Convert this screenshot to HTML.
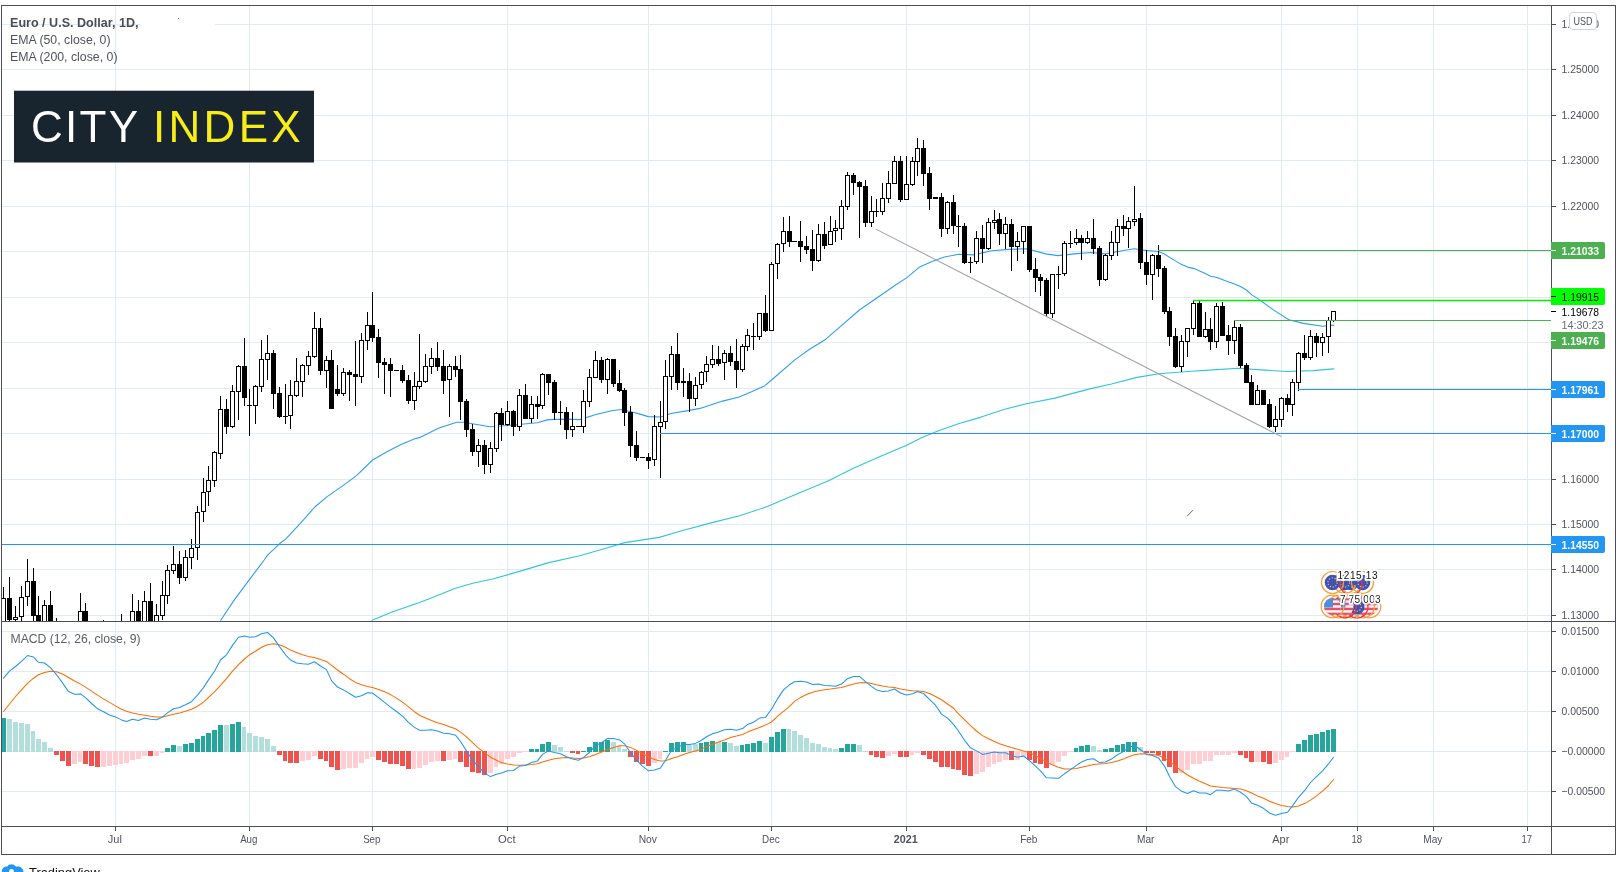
<!DOCTYPE html>
<html lang="en"><head><meta charset="utf-8"><title>EUR/USD chart</title>
<style>html,body{margin:0;padding:0;background:#fff}body{width:1622px;height:872px;overflow:hidden;position:relative}svg{position:absolute;left:0;top:0;display:block;will-change:transform}text{font-family:"Liberation Sans", Arial, sans-serif}</style></head><body>
<svg width="1622" height="872" viewBox="0 0 1622 872">
<rect x="0" y="0" width="1622" height="872" fill="#ffffff"/>
<g shape-rendering="crispEdges">
<rect x="115" y="6" width="1" height="820" fill="#e1ecf2"/>
<rect x="249" y="6" width="1" height="820" fill="#e1ecf2"/>
<rect x="372" y="6" width="1" height="820" fill="#e1ecf2"/>
<rect x="507" y="6" width="1" height="820" fill="#e1ecf2"/>
<rect x="648" y="6" width="1" height="820" fill="#e1ecf2"/>
<rect x="771" y="6" width="1" height="820" fill="#e1ecf2"/>
<rect x="906" y="6" width="1" height="820" fill="#e1ecf2"/>
<rect x="1029" y="6" width="1" height="820" fill="#e1ecf2"/>
<rect x="1146" y="6" width="1" height="820" fill="#e1ecf2"/>
<rect x="1281" y="6" width="1" height="820" fill="#e1ecf2"/>
<rect x="1357" y="6" width="1" height="820" fill="#e1ecf2"/>
<rect x="1433" y="6" width="1" height="820" fill="#e1ecf2"/>
<rect x="1527" y="6" width="1" height="820" fill="#e1ecf2"/>
<rect x="2" y="24" width="1549" height="1" fill="#e1ecf2"/>
<rect x="2" y="69" width="1549" height="1" fill="#e1ecf2"/>
<rect x="2" y="115" width="1549" height="1" fill="#e1ecf2"/>
<rect x="2" y="160" width="1549" height="1" fill="#e1ecf2"/>
<rect x="2" y="206" width="1549" height="1" fill="#e1ecf2"/>
<rect x="2" y="251" width="1549" height="1" fill="#e1ecf2"/>
<rect x="2" y="297" width="1549" height="1" fill="#e1ecf2"/>
<rect x="2" y="342" width="1549" height="1" fill="#e1ecf2"/>
<rect x="2" y="388" width="1549" height="1" fill="#e1ecf2"/>
<rect x="2" y="433" width="1549" height="1" fill="#e1ecf2"/>
<rect x="2" y="479" width="1549" height="1" fill="#e1ecf2"/>
<rect x="2" y="524" width="1549" height="1" fill="#e1ecf2"/>
<rect x="2" y="569" width="1549" height="1" fill="#e1ecf2"/>
<rect x="2" y="615" width="1549" height="1" fill="#e1ecf2"/>
<rect x="2" y="631" width="1549" height="1" fill="#e1ecf2"/>
<rect x="2" y="671" width="1549" height="1" fill="#e1ecf2"/>
<rect x="2" y="711" width="1549" height="1" fill="#e1ecf2"/>
<rect x="2" y="751" width="1549" height="1" fill="#e1ecf2"/>
<rect x="2" y="791" width="1549" height="1" fill="#e1ecf2"/>
</g>
<rect x="141" y="24" width="74" height="1" fill="#ffffff"/>
<rect x="178" y="18" width="1" height="1" fill="#8a8d98"/>
<defs><clipPath id="cm"><rect x="2" y="6" width="1549" height="615"/></clipPath><clipPath id="cd"><rect x="2" y="622" width="1549" height="204"/></clipPath></defs>
<g clip-path="url(#cm)">
<polyline points="372.0,620.3 393.4,611.6 421.0,602.0 455.5,588.2 472.8,583.3 493.5,578.8 521.1,570.9 548.8,562.6 579.8,555.7 607.5,547.8 624.7,542.6 659.3,537.4 680.0,531.2 711.0,522.9 738.7,516.0 765.5,507.3 796.7,494.0 827.9,481.0 853.4,468.2 881.8,455.7 907.3,444.9 921.5,437.8 938.5,430.8 958.4,423.7 981.1,417.1 1003.8,409.5 1026.4,403.8 1054.8,398.1 1088.8,389.1 1111.5,384.0 1137.0,377.4 1158.9,373.7 1187.8,371.5 1216.7,369.6 1238.3,368.2 1264.8,370.1 1286.5,371.5 1312.9,370.6 1333.9,368.9" fill="none" stroke="#30c6da" stroke-width="1.1" stroke-linejoin="round" stroke-linecap="round"/>
<polyline points="220.7,620.3 234.5,599.6 250.0,578.8 264.2,560.0 267.3,555.4 279.5,543.8 285.9,538.9 300.1,523.6 314.8,507.0 327.5,496.4 337.5,489.4 341.6,486.6 356.5,475.6 372.6,460.0 387.0,451.7 400.0,445.0 414.1,439.0 420.0,437.4 438.3,428.3 456.7,422.2 464.0,422.2 489.7,426.8 508.0,425.5 537.4,422.8 548.4,419.6 566.8,419.1 579.6,419.6 596.0,414.5 612.7,410.5 621.8,409.5 631.0,411.7 640.0,414.1 648.3,416.6 660.6,417.0 671.0,413.5 689.5,410.4 699.9,408.4 722.6,401.1 739.1,397.0 751.5,391.8 764.9,385.7 772.1,379.5 794.8,359.9 809.2,349.5 825.8,339.2 840.0,326.8 859.4,310.0 894.5,285.8 906.9,277.6 919.2,267.3 932.0,261.5 944.4,257.0 958.9,254.3 973.3,254.9 991.9,250.8 1008.4,249.4 1027.0,248.8 1045.6,253.9 1058.0,255.6 1074.5,253.9 1091.0,252.5 1105.4,253.9 1122.0,250.8 1134.3,248.8 1142.8,250.1 1158.3,251.5 1163.9,253.8 1174.9,260.6 1180.4,263.9 1187.7,267.1 1194.1,268.6 1204.2,273.0 1210.6,276.2 1216.1,277.2 1228.1,281.7 1234.5,283.9 1240.9,286.8 1246.4,290.0 1251.9,294.9 1259.3,299.6 1274.4,310.6 1288.9,319.8 1303.3,323.4 1322.6,326.3 1333.9,325.1" fill="none" stroke="#309df4" stroke-width="1.1" stroke-linejoin="round" stroke-linecap="round"/>
<g shape-rendering="crispEdges">
<rect x="3" y="587" width="1" height="43" fill="#000000"/>
<rect x="1" y="598" width="5" height="32" fill="#000000"/>
<rect x="2" y="599" width="3" height="30" fill="#ffffff"/>
<rect x="9" y="577" width="1" height="53" fill="#000000"/>
<rect x="7" y="598" width="5" height="22" fill="#000000"/>
<rect x="15" y="606" width="1" height="20" fill="#000000"/>
<rect x="13" y="617" width="5" height="3" fill="#000000"/>
<rect x="14" y="618" width="3" height="1" fill="#ffffff"/>
<rect x="21" y="586" width="1" height="44" fill="#000000"/>
<rect x="19" y="597" width="5" height="20" fill="#000000"/>
<rect x="20" y="598" width="3" height="18" fill="#ffffff"/>
<rect x="27" y="559" width="1" height="47" fill="#000000"/>
<rect x="25" y="581" width="5" height="16" fill="#000000"/>
<rect x="26" y="582" width="3" height="14" fill="#ffffff"/>
<rect x="33" y="568" width="1" height="62" fill="#000000"/>
<rect x="31" y="581" width="5" height="35" fill="#000000"/>
<rect x="38" y="596" width="1" height="34" fill="#000000"/>
<rect x="36" y="615" width="5" height="15" fill="#000000"/>
<rect x="44" y="600" width="1" height="30" fill="#000000"/>
<rect x="42" y="605" width="5" height="25" fill="#000000"/>
<rect x="43" y="606" width="3" height="23" fill="#ffffff"/>
<rect x="50" y="591" width="1" height="39" fill="#000000"/>
<rect x="48" y="605" width="5" height="25" fill="#000000"/>
<rect x="56" y="618" width="1" height="12" fill="#000000"/>
<rect x="54" y="625" width="5" height="5" fill="#000000"/>
<rect x="80" y="593" width="1" height="37" fill="#000000"/>
<rect x="78" y="611" width="5" height="19" fill="#000000"/>
<rect x="79" y="612" width="3" height="17" fill="#ffffff"/>
<rect x="85" y="603" width="1" height="27" fill="#000000"/>
<rect x="83" y="611" width="5" height="19" fill="#000000"/>
<rect x="103" y="620" width="1" height="10" fill="#000000"/>
<rect x="101" y="625" width="5" height="5" fill="#000000"/>
<rect x="121" y="614" width="1" height="16" fill="#000000"/>
<rect x="119" y="625" width="5" height="5" fill="#000000"/>
<rect x="132" y="594" width="1" height="36" fill="#000000"/>
<rect x="130" y="611" width="5" height="19" fill="#000000"/>
<rect x="131" y="612" width="3" height="17" fill="#ffffff"/>
<rect x="138" y="600" width="1" height="30" fill="#000000"/>
<rect x="136" y="611" width="5" height="19" fill="#000000"/>
<rect x="144" y="591" width="1" height="39" fill="#000000"/>
<rect x="142" y="601" width="5" height="29" fill="#000000"/>
<rect x="143" y="602" width="3" height="27" fill="#ffffff"/>
<rect x="150" y="583" width="1" height="47" fill="#000000"/>
<rect x="148" y="601" width="5" height="29" fill="#000000"/>
<rect x="156" y="604" width="1" height="26" fill="#000000"/>
<rect x="154" y="615" width="5" height="15" fill="#000000"/>
<rect x="155" y="616" width="3" height="13" fill="#ffffff"/>
<rect x="162" y="581" width="1" height="39" fill="#000000"/>
<rect x="160" y="595" width="5" height="21" fill="#000000"/>
<rect x="161" y="596" width="3" height="19" fill="#ffffff"/>
<rect x="167" y="565" width="1" height="39" fill="#000000"/>
<rect x="165" y="570" width="5" height="26" fill="#000000"/>
<rect x="166" y="571" width="3" height="24" fill="#ffffff"/>
<rect x="173" y="546" width="1" height="28" fill="#000000"/>
<rect x="171" y="564" width="5" height="7" fill="#000000"/>
<rect x="172" y="565" width="3" height="5" fill="#ffffff"/>
<rect x="179" y="551" width="1" height="33" fill="#000000"/>
<rect x="177" y="564" width="5" height="14" fill="#000000"/>
<rect x="185" y="550" width="1" height="31" fill="#000000"/>
<rect x="183" y="557" width="5" height="21" fill="#000000"/>
<rect x="184" y="558" width="3" height="19" fill="#ffffff"/>
<rect x="191" y="539" width="1" height="30" fill="#000000"/>
<rect x="189" y="548" width="5" height="10" fill="#000000"/>
<rect x="190" y="549" width="3" height="8" fill="#ffffff"/>
<rect x="197" y="506" width="1" height="54" fill="#000000"/>
<rect x="195" y="512" width="5" height="36" fill="#000000"/>
<rect x="196" y="513" width="3" height="34" fill="#ffffff"/>
<rect x="203" y="478" width="1" height="44" fill="#000000"/>
<rect x="201" y="492" width="5" height="20" fill="#000000"/>
<rect x="202" y="493" width="3" height="18" fill="#ffffff"/>
<rect x="208" y="466" width="1" height="40" fill="#000000"/>
<rect x="206" y="480" width="5" height="12" fill="#000000"/>
<rect x="207" y="481" width="3" height="10" fill="#ffffff"/>
<rect x="214" y="451" width="1" height="36" fill="#000000"/>
<rect x="212" y="452" width="5" height="29" fill="#000000"/>
<rect x="213" y="453" width="3" height="27" fill="#ffffff"/>
<rect x="220" y="396" width="1" height="63" fill="#000000"/>
<rect x="218" y="409" width="5" height="45" fill="#000000"/>
<rect x="219" y="410" width="3" height="43" fill="#ffffff"/>
<rect x="226" y="399" width="1" height="35" fill="#000000"/>
<rect x="224" y="409" width="5" height="18" fill="#000000"/>
<rect x="232" y="385" width="1" height="43" fill="#000000"/>
<rect x="230" y="391" width="5" height="36" fill="#000000"/>
<rect x="231" y="392" width="3" height="34" fill="#ffffff"/>
<rect x="238" y="365" width="1" height="55" fill="#000000"/>
<rect x="236" y="366" width="5" height="26" fill="#000000"/>
<rect x="237" y="367" width="3" height="24" fill="#ffffff"/>
<rect x="244" y="338" width="1" height="68" fill="#000000"/>
<rect x="242" y="366" width="5" height="32" fill="#000000"/>
<rect x="249" y="389" width="1" height="47" fill="#000000"/>
<rect x="247" y="405" width="5" height="1" fill="#000000"/>
<rect x="255" y="385" width="1" height="39" fill="#000000"/>
<rect x="253" y="386" width="5" height="20" fill="#000000"/>
<rect x="254" y="387" width="3" height="18" fill="#ffffff"/>
<rect x="261" y="340" width="1" height="52" fill="#000000"/>
<rect x="259" y="359" width="5" height="28" fill="#000000"/>
<rect x="260" y="360" width="3" height="26" fill="#ffffff"/>
<rect x="267" y="335" width="1" height="45" fill="#000000"/>
<rect x="265" y="353" width="5" height="7" fill="#000000"/>
<rect x="266" y="354" width="3" height="5" fill="#ffffff"/>
<rect x="273" y="350" width="1" height="59" fill="#000000"/>
<rect x="271" y="353" width="5" height="41" fill="#000000"/>
<rect x="279" y="387" width="1" height="31" fill="#000000"/>
<rect x="277" y="393" width="5" height="24" fill="#000000"/>
<rect x="285" y="384" width="1" height="40" fill="#000000"/>
<rect x="283" y="416" width="5" height="1" fill="#000000"/>
<rect x="290" y="380" width="1" height="49" fill="#000000"/>
<rect x="288" y="395" width="5" height="21" fill="#000000"/>
<rect x="289" y="396" width="3" height="19" fill="#ffffff"/>
<rect x="296" y="358" width="1" height="39" fill="#000000"/>
<rect x="294" y="381" width="5" height="15" fill="#000000"/>
<rect x="295" y="382" width="3" height="13" fill="#ffffff"/>
<rect x="302" y="364" width="1" height="33" fill="#000000"/>
<rect x="300" y="365" width="5" height="17" fill="#000000"/>
<rect x="301" y="366" width="3" height="15" fill="#ffffff"/>
<rect x="308" y="351" width="1" height="24" fill="#000000"/>
<rect x="306" y="356" width="5" height="10" fill="#000000"/>
<rect x="307" y="357" width="3" height="8" fill="#ffffff"/>
<rect x="314" y="312" width="1" height="46" fill="#000000"/>
<rect x="312" y="328" width="5" height="29" fill="#000000"/>
<rect x="313" y="329" width="3" height="27" fill="#ffffff"/>
<rect x="320" y="318" width="1" height="57" fill="#000000"/>
<rect x="318" y="328" width="5" height="43" fill="#000000"/>
<rect x="326" y="356" width="1" height="32" fill="#000000"/>
<rect x="324" y="360" width="5" height="11" fill="#000000"/>
<rect x="325" y="361" width="3" height="9" fill="#ffffff"/>
<rect x="331" y="350" width="1" height="58" fill="#000000"/>
<rect x="329" y="360" width="5" height="49" fill="#000000"/>
<rect x="337" y="365" width="1" height="31" fill="#000000"/>
<rect x="335" y="389" width="5" height="5" fill="#000000"/>
<rect x="343" y="368" width="1" height="28" fill="#000000"/>
<rect x="341" y="372" width="5" height="22" fill="#000000"/>
<rect x="342" y="373" width="3" height="20" fill="#ffffff"/>
<rect x="349" y="370" width="1" height="31" fill="#000000"/>
<rect x="347" y="372" width="5" height="3" fill="#000000"/>
<rect x="355" y="341" width="1" height="65" fill="#000000"/>
<rect x="353" y="374" width="5" height="3" fill="#000000"/>
<rect x="361" y="333" width="1" height="50" fill="#000000"/>
<rect x="359" y="340" width="5" height="37" fill="#000000"/>
<rect x="360" y="341" width="3" height="35" fill="#ffffff"/>
<rect x="367" y="312" width="1" height="38" fill="#000000"/>
<rect x="365" y="325" width="5" height="16" fill="#000000"/>
<rect x="366" y="326" width="3" height="14" fill="#ffffff"/>
<rect x="372" y="292" width="1" height="50" fill="#000000"/>
<rect x="370" y="325" width="5" height="13" fill="#000000"/>
<rect x="378" y="329" width="1" height="49" fill="#000000"/>
<rect x="376" y="337" width="5" height="26" fill="#000000"/>
<rect x="384" y="358" width="1" height="36" fill="#000000"/>
<rect x="382" y="362" width="5" height="3" fill="#000000"/>
<rect x="390" y="358" width="1" height="39" fill="#000000"/>
<rect x="388" y="364" width="5" height="7" fill="#000000"/>
<rect x="394" y="370" width="5" height="1" fill="#000000"/>
<rect x="402" y="365" width="1" height="18" fill="#000000"/>
<rect x="400" y="370" width="5" height="11" fill="#000000"/>
<rect x="408" y="375" width="1" height="29" fill="#000000"/>
<rect x="406" y="380" width="5" height="21" fill="#000000"/>
<rect x="414" y="372" width="1" height="38" fill="#000000"/>
<rect x="412" y="386" width="5" height="15" fill="#000000"/>
<rect x="413" y="387" width="3" height="13" fill="#ffffff"/>
<rect x="419" y="334" width="1" height="55" fill="#000000"/>
<rect x="417" y="381" width="5" height="6" fill="#000000"/>
<rect x="418" y="382" width="3" height="4" fill="#ffffff"/>
<rect x="425" y="354" width="1" height="29" fill="#000000"/>
<rect x="423" y="366" width="5" height="16" fill="#000000"/>
<rect x="424" y="367" width="3" height="14" fill="#ffffff"/>
<rect x="431" y="348" width="1" height="26" fill="#000000"/>
<rect x="429" y="358" width="5" height="9" fill="#000000"/>
<rect x="430" y="359" width="3" height="7" fill="#ffffff"/>
<rect x="437" y="342" width="1" height="29" fill="#000000"/>
<rect x="435" y="358" width="5" height="9" fill="#000000"/>
<rect x="443" y="350" width="1" height="44" fill="#000000"/>
<rect x="441" y="366" width="5" height="15" fill="#000000"/>
<rect x="449" y="364" width="1" height="53" fill="#000000"/>
<rect x="447" y="366" width="5" height="14" fill="#000000"/>
<rect x="448" y="367" width="3" height="12" fill="#ffffff"/>
<rect x="455" y="356" width="1" height="21" fill="#000000"/>
<rect x="453" y="366" width="5" height="4" fill="#000000"/>
<rect x="460" y="355" width="1" height="65" fill="#000000"/>
<rect x="458" y="369" width="5" height="33" fill="#000000"/>
<rect x="466" y="399" width="1" height="38" fill="#000000"/>
<rect x="464" y="401" width="5" height="29" fill="#000000"/>
<rect x="472" y="424" width="1" height="32" fill="#000000"/>
<rect x="470" y="429" width="5" height="23" fill="#000000"/>
<rect x="478" y="439" width="1" height="28" fill="#000000"/>
<rect x="476" y="445" width="5" height="7" fill="#000000"/>
<rect x="477" y="446" width="3" height="5" fill="#ffffff"/>
<rect x="484" y="440" width="1" height="34" fill="#000000"/>
<rect x="482" y="445" width="5" height="20" fill="#000000"/>
<rect x="490" y="442" width="1" height="31" fill="#000000"/>
<rect x="488" y="448" width="5" height="17" fill="#000000"/>
<rect x="489" y="449" width="3" height="15" fill="#ffffff"/>
<rect x="496" y="412" width="1" height="40" fill="#000000"/>
<rect x="494" y="413" width="5" height="36" fill="#000000"/>
<rect x="495" y="414" width="3" height="34" fill="#ffffff"/>
<rect x="501" y="408" width="1" height="33" fill="#000000"/>
<rect x="499" y="413" width="5" height="12" fill="#000000"/>
<rect x="507" y="401" width="1" height="25" fill="#000000"/>
<rect x="505" y="411" width="5" height="14" fill="#000000"/>
<rect x="506" y="412" width="3" height="12" fill="#ffffff"/>
<rect x="513" y="410" width="1" height="26" fill="#000000"/>
<rect x="511" y="411" width="5" height="16" fill="#000000"/>
<rect x="519" y="389" width="1" height="42" fill="#000000"/>
<rect x="517" y="395" width="5" height="32" fill="#000000"/>
<rect x="518" y="396" width="3" height="30" fill="#ffffff"/>
<rect x="525" y="384" width="1" height="34" fill="#000000"/>
<rect x="523" y="395" width="5" height="24" fill="#000000"/>
<rect x="531" y="396" width="1" height="27" fill="#000000"/>
<rect x="529" y="404" width="5" height="15" fill="#000000"/>
<rect x="530" y="405" width="3" height="13" fill="#ffffff"/>
<rect x="537" y="396" width="1" height="23" fill="#000000"/>
<rect x="535" y="404" width="5" height="3" fill="#000000"/>
<rect x="542" y="373" width="1" height="36" fill="#000000"/>
<rect x="540" y="374" width="5" height="32" fill="#000000"/>
<rect x="541" y="375" width="3" height="30" fill="#ffffff"/>
<rect x="548" y="374" width="1" height="21" fill="#000000"/>
<rect x="546" y="374" width="5" height="9" fill="#000000"/>
<rect x="554" y="380" width="1" height="40" fill="#000000"/>
<rect x="552" y="382" width="5" height="31" fill="#000000"/>
<rect x="560" y="401" width="1" height="24" fill="#000000"/>
<rect x="558" y="412" width="5" height="1" fill="#000000"/>
<rect x="566" y="407" width="1" height="32" fill="#000000"/>
<rect x="564" y="412" width="5" height="18" fill="#000000"/>
<rect x="572" y="412" width="1" height="25" fill="#000000"/>
<rect x="570" y="426" width="5" height="4" fill="#000000"/>
<rect x="571" y="427" width="3" height="2" fill="#ffffff"/>
<rect x="576" y="426" width="5" height="1" fill="#000000"/>
<rect x="583" y="390" width="1" height="43" fill="#000000"/>
<rect x="581" y="401" width="5" height="26" fill="#000000"/>
<rect x="582" y="402" width="3" height="24" fill="#ffffff"/>
<rect x="589" y="369" width="1" height="38" fill="#000000"/>
<rect x="587" y="377" width="5" height="25" fill="#000000"/>
<rect x="588" y="378" width="3" height="23" fill="#ffffff"/>
<rect x="595" y="351" width="1" height="26" fill="#000000"/>
<rect x="593" y="360" width="5" height="18" fill="#000000"/>
<rect x="594" y="361" width="3" height="16" fill="#ffffff"/>
<rect x="601" y="357" width="1" height="26" fill="#000000"/>
<rect x="599" y="360" width="5" height="20" fill="#000000"/>
<rect x="607" y="358" width="1" height="36" fill="#000000"/>
<rect x="605" y="359" width="5" height="21" fill="#000000"/>
<rect x="606" y="360" width="3" height="19" fill="#ffffff"/>
<rect x="613" y="359" width="1" height="28" fill="#000000"/>
<rect x="611" y="359" width="5" height="25" fill="#000000"/>
<rect x="619" y="370" width="1" height="22" fill="#000000"/>
<rect x="617" y="383" width="5" height="8" fill="#000000"/>
<rect x="624" y="388" width="1" height="38" fill="#000000"/>
<rect x="622" y="390" width="5" height="23" fill="#000000"/>
<rect x="630" y="406" width="1" height="51" fill="#000000"/>
<rect x="628" y="412" width="5" height="34" fill="#000000"/>
<rect x="636" y="431" width="1" height="30" fill="#000000"/>
<rect x="634" y="445" width="5" height="13" fill="#000000"/>
<rect x="640" y="457" width="5" height="1" fill="#000000"/>
<rect x="648" y="453" width="1" height="16" fill="#000000"/>
<rect x="646" y="457" width="5" height="4" fill="#000000"/>
<rect x="654" y="415" width="1" height="51" fill="#000000"/>
<rect x="652" y="426" width="5" height="34" fill="#000000"/>
<rect x="653" y="427" width="3" height="32" fill="#ffffff"/>
<rect x="660" y="401" width="1" height="77" fill="#000000"/>
<rect x="658" y="422" width="5" height="5" fill="#000000"/>
<rect x="659" y="423" width="3" height="3" fill="#ffffff"/>
<rect x="665" y="360" width="1" height="69" fill="#000000"/>
<rect x="663" y="376" width="5" height="46" fill="#000000"/>
<rect x="664" y="377" width="3" height="44" fill="#ffffff"/>
<rect x="671" y="346" width="1" height="44" fill="#000000"/>
<rect x="669" y="354" width="5" height="23" fill="#000000"/>
<rect x="670" y="355" width="3" height="21" fill="#ffffff"/>
<rect x="677" y="333" width="1" height="57" fill="#000000"/>
<rect x="675" y="354" width="5" height="29" fill="#000000"/>
<rect x="683" y="368" width="1" height="29" fill="#000000"/>
<rect x="681" y="381" width="5" height="2" fill="#000000"/>
<rect x="689" y="373" width="1" height="39" fill="#000000"/>
<rect x="687" y="381" width="5" height="18" fill="#000000"/>
<rect x="695" y="377" width="1" height="29" fill="#000000"/>
<rect x="693" y="385" width="5" height="14" fill="#000000"/>
<rect x="694" y="386" width="3" height="12" fill="#ffffff"/>
<rect x="701" y="371" width="1" height="18" fill="#000000"/>
<rect x="699" y="372" width="5" height="13" fill="#000000"/>
<rect x="700" y="373" width="3" height="11" fill="#ffffff"/>
<rect x="706" y="356" width="1" height="26" fill="#000000"/>
<rect x="704" y="364" width="5" height="8" fill="#000000"/>
<rect x="705" y="365" width="3" height="6" fill="#ffffff"/>
<rect x="712" y="345" width="1" height="23" fill="#000000"/>
<rect x="710" y="359" width="5" height="6" fill="#000000"/>
<rect x="711" y="360" width="3" height="4" fill="#ffffff"/>
<rect x="718" y="346" width="1" height="20" fill="#000000"/>
<rect x="716" y="359" width="5" height="5" fill="#000000"/>
<rect x="724" y="350" width="1" height="30" fill="#000000"/>
<rect x="722" y="353" width="5" height="10" fill="#000000"/>
<rect x="723" y="354" width="3" height="8" fill="#ffffff"/>
<rect x="730" y="346" width="1" height="20" fill="#000000"/>
<rect x="728" y="353" width="5" height="9" fill="#000000"/>
<rect x="736" y="339" width="1" height="49" fill="#000000"/>
<rect x="734" y="361" width="5" height="9" fill="#000000"/>
<rect x="742" y="344" width="1" height="28" fill="#000000"/>
<rect x="740" y="346" width="5" height="24" fill="#000000"/>
<rect x="741" y="347" width="3" height="22" fill="#ffffff"/>
<rect x="747" y="329" width="1" height="22" fill="#000000"/>
<rect x="745" y="335" width="5" height="12" fill="#000000"/>
<rect x="746" y="336" width="3" height="10" fill="#ffffff"/>
<rect x="753" y="323" width="1" height="27" fill="#000000"/>
<rect x="751" y="336" width="5" height="1" fill="#000000"/>
<rect x="759" y="313" width="1" height="27" fill="#000000"/>
<rect x="757" y="313" width="5" height="24" fill="#000000"/>
<rect x="758" y="314" width="3" height="22" fill="#ffffff"/>
<rect x="765" y="295" width="1" height="37" fill="#000000"/>
<rect x="763" y="313" width="5" height="18" fill="#000000"/>
<rect x="771" y="262" width="1" height="68" fill="#000000"/>
<rect x="769" y="264" width="5" height="67" fill="#000000"/>
<rect x="770" y="265" width="3" height="65" fill="#ffffff"/>
<rect x="777" y="243" width="1" height="36" fill="#000000"/>
<rect x="775" y="244" width="5" height="20" fill="#000000"/>
<rect x="776" y="245" width="3" height="18" fill="#ffffff"/>
<rect x="783" y="217" width="1" height="35" fill="#000000"/>
<rect x="781" y="231" width="5" height="13" fill="#000000"/>
<rect x="782" y="232" width="3" height="11" fill="#ffffff"/>
<rect x="789" y="216" width="1" height="31" fill="#000000"/>
<rect x="787" y="231" width="5" height="11" fill="#000000"/>
<rect x="792" y="241" width="5" height="1" fill="#000000"/>
<rect x="800" y="221" width="1" height="41" fill="#000000"/>
<rect x="798" y="241" width="5" height="6" fill="#000000"/>
<rect x="806" y="236" width="1" height="18" fill="#000000"/>
<rect x="804" y="246" width="5" height="4" fill="#000000"/>
<rect x="812" y="230" width="1" height="41" fill="#000000"/>
<rect x="810" y="249" width="5" height="12" fill="#000000"/>
<rect x="818" y="224" width="1" height="38" fill="#000000"/>
<rect x="816" y="234" width="5" height="27" fill="#000000"/>
<rect x="817" y="235" width="3" height="25" fill="#ffffff"/>
<rect x="824" y="222" width="1" height="27" fill="#000000"/>
<rect x="822" y="234" width="5" height="12" fill="#000000"/>
<rect x="830" y="216" width="1" height="29" fill="#000000"/>
<rect x="828" y="231" width="5" height="14" fill="#000000"/>
<rect x="829" y="232" width="3" height="12" fill="#ffffff"/>
<rect x="835" y="220" width="1" height="22" fill="#000000"/>
<rect x="833" y="228" width="5" height="3" fill="#000000"/>
<rect x="834" y="229" width="3" height="1" fill="#ffffff"/>
<rect x="841" y="200" width="1" height="40" fill="#000000"/>
<rect x="839" y="206" width="5" height="23" fill="#000000"/>
<rect x="840" y="207" width="3" height="21" fill="#ffffff"/>
<rect x="847" y="172" width="1" height="38" fill="#000000"/>
<rect x="845" y="175" width="5" height="32" fill="#000000"/>
<rect x="846" y="176" width="3" height="30" fill="#ffffff"/>
<rect x="853" y="173" width="1" height="22" fill="#000000"/>
<rect x="851" y="175" width="5" height="8" fill="#000000"/>
<rect x="859" y="181" width="1" height="57" fill="#000000"/>
<rect x="857" y="182" width="5" height="5" fill="#000000"/>
<rect x="865" y="180" width="1" height="47" fill="#000000"/>
<rect x="863" y="186" width="5" height="37" fill="#000000"/>
<rect x="871" y="196" width="1" height="31" fill="#000000"/>
<rect x="869" y="211" width="5" height="12" fill="#000000"/>
<rect x="870" y="212" width="3" height="10" fill="#ffffff"/>
<rect x="876" y="199" width="1" height="18" fill="#000000"/>
<rect x="874" y="211" width="5" height="1" fill="#000000"/>
<rect x="882" y="183" width="1" height="32" fill="#000000"/>
<rect x="880" y="198" width="5" height="14" fill="#000000"/>
<rect x="881" y="199" width="3" height="12" fill="#ffffff"/>
<rect x="888" y="171" width="1" height="32" fill="#000000"/>
<rect x="886" y="183" width="5" height="16" fill="#000000"/>
<rect x="887" y="184" width="3" height="14" fill="#ffffff"/>
<rect x="894" y="156" width="1" height="28" fill="#000000"/>
<rect x="892" y="161" width="5" height="23" fill="#000000"/>
<rect x="893" y="162" width="3" height="21" fill="#ffffff"/>
<rect x="900" y="156" width="1" height="46" fill="#000000"/>
<rect x="898" y="161" width="5" height="39" fill="#000000"/>
<rect x="906" y="156" width="1" height="43" fill="#000000"/>
<rect x="904" y="184" width="5" height="16" fill="#000000"/>
<rect x="905" y="185" width="3" height="14" fill="#ffffff"/>
<rect x="912" y="157" width="1" height="29" fill="#000000"/>
<rect x="910" y="161" width="5" height="24" fill="#000000"/>
<rect x="911" y="162" width="3" height="22" fill="#ffffff"/>
<rect x="917" y="138" width="1" height="38" fill="#000000"/>
<rect x="915" y="148" width="5" height="14" fill="#000000"/>
<rect x="916" y="149" width="3" height="12" fill="#ffffff"/>
<rect x="923" y="140" width="1" height="46" fill="#000000"/>
<rect x="921" y="148" width="5" height="26" fill="#000000"/>
<rect x="929" y="167" width="1" height="43" fill="#000000"/>
<rect x="927" y="173" width="5" height="26" fill="#000000"/>
<rect x="935" y="197" width="1" height="2" fill="#000000"/>
<rect x="933" y="197" width="5" height="2" fill="#000000"/>
<rect x="941" y="193" width="1" height="44" fill="#000000"/>
<rect x="939" y="197" width="5" height="32" fill="#000000"/>
<rect x="947" y="201" width="1" height="33" fill="#000000"/>
<rect x="945" y="202" width="5" height="27" fill="#000000"/>
<rect x="946" y="203" width="3" height="25" fill="#ffffff"/>
<rect x="953" y="195" width="1" height="39" fill="#000000"/>
<rect x="951" y="202" width="5" height="24" fill="#000000"/>
<rect x="958" y="215" width="1" height="32" fill="#000000"/>
<rect x="956" y="226" width="5" height="1" fill="#000000"/>
<rect x="964" y="223" width="1" height="41" fill="#000000"/>
<rect x="962" y="226" width="5" height="37" fill="#000000"/>
<rect x="970" y="257" width="1" height="16" fill="#000000"/>
<rect x="968" y="262" width="5" height="1" fill="#000000"/>
<rect x="976" y="231" width="1" height="33" fill="#000000"/>
<rect x="974" y="238" width="5" height="24" fill="#000000"/>
<rect x="975" y="239" width="3" height="22" fill="#ffffff"/>
<rect x="982" y="225" width="1" height="38" fill="#000000"/>
<rect x="980" y="238" width="5" height="11" fill="#000000"/>
<rect x="988" y="218" width="1" height="32" fill="#000000"/>
<rect x="986" y="222" width="5" height="27" fill="#000000"/>
<rect x="987" y="223" width="3" height="25" fill="#ffffff"/>
<rect x="994" y="210" width="1" height="19" fill="#000000"/>
<rect x="992" y="220" width="5" height="3" fill="#000000"/>
<rect x="993" y="221" width="3" height="1" fill="#ffffff"/>
<rect x="999" y="213" width="1" height="32" fill="#000000"/>
<rect x="997" y="219" width="5" height="15" fill="#000000"/>
<rect x="1005" y="217" width="1" height="32" fill="#000000"/>
<rect x="1003" y="224" width="5" height="10" fill="#000000"/>
<rect x="1004" y="225" width="3" height="8" fill="#ffffff"/>
<rect x="1011" y="219" width="1" height="52" fill="#000000"/>
<rect x="1009" y="224" width="5" height="23" fill="#000000"/>
<rect x="1017" y="232" width="1" height="29" fill="#000000"/>
<rect x="1015" y="241" width="5" height="6" fill="#000000"/>
<rect x="1016" y="242" width="3" height="4" fill="#ffffff"/>
<rect x="1023" y="226" width="1" height="28" fill="#000000"/>
<rect x="1021" y="226" width="5" height="16" fill="#000000"/>
<rect x="1022" y="227" width="3" height="14" fill="#ffffff"/>
<rect x="1029" y="226" width="1" height="46" fill="#000000"/>
<rect x="1027" y="226" width="5" height="44" fill="#000000"/>
<rect x="1035" y="258" width="1" height="34" fill="#000000"/>
<rect x="1033" y="269" width="5" height="9" fill="#000000"/>
<rect x="1040" y="274" width="1" height="22" fill="#000000"/>
<rect x="1038" y="277" width="5" height="4" fill="#000000"/>
<rect x="1046" y="278" width="1" height="38" fill="#000000"/>
<rect x="1044" y="280" width="5" height="34" fill="#000000"/>
<rect x="1052" y="275" width="1" height="43" fill="#000000"/>
<rect x="1050" y="274" width="5" height="40" fill="#000000"/>
<rect x="1051" y="275" width="3" height="38" fill="#ffffff"/>
<rect x="1058" y="266" width="1" height="23" fill="#000000"/>
<rect x="1056" y="274" width="5" height="1" fill="#000000"/>
<rect x="1064" y="241" width="1" height="35" fill="#000000"/>
<rect x="1062" y="243" width="5" height="31" fill="#000000"/>
<rect x="1063" y="244" width="3" height="29" fill="#ffffff"/>
<rect x="1070" y="231" width="1" height="17" fill="#000000"/>
<rect x="1068" y="243" width="5" height="1" fill="#000000"/>
<rect x="1076" y="229" width="1" height="16" fill="#000000"/>
<rect x="1074" y="238" width="5" height="5" fill="#000000"/>
<rect x="1075" y="239" width="3" height="3" fill="#ffffff"/>
<rect x="1081" y="235" width="1" height="25" fill="#000000"/>
<rect x="1079" y="238" width="5" height="5" fill="#000000"/>
<rect x="1087" y="231" width="1" height="13" fill="#000000"/>
<rect x="1085" y="238" width="5" height="5" fill="#000000"/>
<rect x="1086" y="239" width="3" height="3" fill="#ffffff"/>
<rect x="1093" y="219" width="1" height="35" fill="#000000"/>
<rect x="1091" y="238" width="5" height="11" fill="#000000"/>
<rect x="1099" y="246" width="1" height="40" fill="#000000"/>
<rect x="1097" y="248" width="5" height="32" fill="#000000"/>
<rect x="1105" y="254" width="1" height="27" fill="#000000"/>
<rect x="1103" y="255" width="5" height="25" fill="#000000"/>
<rect x="1104" y="256" width="3" height="23" fill="#ffffff"/>
<rect x="1111" y="231" width="1" height="29" fill="#000000"/>
<rect x="1109" y="242" width="5" height="14" fill="#000000"/>
<rect x="1110" y="243" width="3" height="12" fill="#ffffff"/>
<rect x="1117" y="219" width="1" height="37" fill="#000000"/>
<rect x="1115" y="226" width="5" height="17" fill="#000000"/>
<rect x="1116" y="227" width="3" height="15" fill="#ffffff"/>
<rect x="1123" y="215" width="1" height="21" fill="#000000"/>
<rect x="1121" y="226" width="5" height="3" fill="#000000"/>
<rect x="1128" y="217" width="1" height="31" fill="#000000"/>
<rect x="1126" y="221" width="5" height="8" fill="#000000"/>
<rect x="1127" y="222" width="3" height="6" fill="#ffffff"/>
<rect x="1134" y="186" width="1" height="40" fill="#000000"/>
<rect x="1132" y="219" width="5" height="3" fill="#000000"/>
<rect x="1133" y="220" width="3" height="1" fill="#ffffff"/>
<rect x="1140" y="213" width="1" height="56" fill="#000000"/>
<rect x="1138" y="218" width="5" height="45" fill="#000000"/>
<rect x="1146" y="250" width="1" height="35" fill="#000000"/>
<rect x="1144" y="262" width="5" height="13" fill="#000000"/>
<rect x="1152" y="254" width="1" height="46" fill="#000000"/>
<rect x="1150" y="255" width="5" height="20" fill="#000000"/>
<rect x="1151" y="256" width="3" height="18" fill="#ffffff"/>
<rect x="1158" y="245" width="1" height="32" fill="#000000"/>
<rect x="1156" y="255" width="5" height="14" fill="#000000"/>
<rect x="1164" y="266" width="1" height="48" fill="#000000"/>
<rect x="1162" y="268" width="5" height="44" fill="#000000"/>
<rect x="1169" y="307" width="1" height="39" fill="#000000"/>
<rect x="1167" y="311" width="5" height="26" fill="#000000"/>
<rect x="1175" y="328" width="1" height="40" fill="#000000"/>
<rect x="1173" y="336" width="5" height="31" fill="#000000"/>
<rect x="1181" y="335" width="1" height="37" fill="#000000"/>
<rect x="1179" y="341" width="5" height="26" fill="#000000"/>
<rect x="1180" y="342" width="3" height="24" fill="#ffffff"/>
<rect x="1187" y="328" width="1" height="29" fill="#000000"/>
<rect x="1185" y="328" width="5" height="14" fill="#000000"/>
<rect x="1186" y="329" width="3" height="12" fill="#ffffff"/>
<rect x="1193" y="301" width="1" height="34" fill="#000000"/>
<rect x="1191" y="303" width="5" height="26" fill="#000000"/>
<rect x="1192" y="304" width="3" height="24" fill="#ffffff"/>
<rect x="1199" y="301" width="1" height="36" fill="#000000"/>
<rect x="1197" y="303" width="5" height="34" fill="#000000"/>
<rect x="1205" y="312" width="1" height="26" fill="#000000"/>
<rect x="1203" y="329" width="5" height="8" fill="#000000"/>
<rect x="1204" y="330" width="3" height="6" fill="#ffffff"/>
<rect x="1210" y="318" width="1" height="32" fill="#000000"/>
<rect x="1208" y="329" width="5" height="13" fill="#000000"/>
<rect x="1216" y="303" width="1" height="45" fill="#000000"/>
<rect x="1214" y="306" width="5" height="36" fill="#000000"/>
<rect x="1215" y="307" width="3" height="34" fill="#ffffff"/>
<rect x="1222" y="302" width="1" height="34" fill="#000000"/>
<rect x="1220" y="306" width="5" height="30" fill="#000000"/>
<rect x="1228" y="325" width="1" height="30" fill="#000000"/>
<rect x="1226" y="335" width="5" height="6" fill="#000000"/>
<rect x="1234" y="320" width="1" height="34" fill="#000000"/>
<rect x="1232" y="327" width="5" height="14" fill="#000000"/>
<rect x="1233" y="328" width="3" height="12" fill="#ffffff"/>
<rect x="1240" y="324" width="1" height="44" fill="#000000"/>
<rect x="1238" y="327" width="5" height="39" fill="#000000"/>
<rect x="1246" y="363" width="1" height="20" fill="#000000"/>
<rect x="1244" y="365" width="5" height="18" fill="#000000"/>
<rect x="1251" y="375" width="1" height="30" fill="#000000"/>
<rect x="1249" y="382" width="5" height="23" fill="#000000"/>
<rect x="1257" y="385" width="1" height="19" fill="#000000"/>
<rect x="1255" y="390" width="5" height="15" fill="#000000"/>
<rect x="1256" y="391" width="3" height="13" fill="#ffffff"/>
<rect x="1263" y="390" width="1" height="15" fill="#000000"/>
<rect x="1261" y="390" width="5" height="15" fill="#000000"/>
<rect x="1269" y="399" width="1" height="29" fill="#000000"/>
<rect x="1267" y="404" width="5" height="23" fill="#000000"/>
<rect x="1275" y="406" width="1" height="26" fill="#000000"/>
<rect x="1273" y="419" width="5" height="8" fill="#000000"/>
<rect x="1274" y="420" width="3" height="6" fill="#ffffff"/>
<rect x="1281" y="397" width="1" height="30" fill="#000000"/>
<rect x="1279" y="398" width="5" height="22" fill="#000000"/>
<rect x="1280" y="399" width="3" height="20" fill="#ffffff"/>
<rect x="1287" y="394" width="1" height="18" fill="#000000"/>
<rect x="1285" y="398" width="5" height="7" fill="#000000"/>
<rect x="1292" y="379" width="1" height="37" fill="#000000"/>
<rect x="1290" y="382" width="5" height="23" fill="#000000"/>
<rect x="1291" y="383" width="3" height="21" fill="#ffffff"/>
<rect x="1298" y="352" width="1" height="39" fill="#000000"/>
<rect x="1296" y="353" width="5" height="30" fill="#000000"/>
<rect x="1297" y="354" width="3" height="28" fill="#ffffff"/>
<rect x="1304" y="335" width="1" height="25" fill="#000000"/>
<rect x="1302" y="353" width="5" height="5" fill="#000000"/>
<rect x="1310" y="330" width="1" height="30" fill="#000000"/>
<rect x="1308" y="336" width="5" height="22" fill="#000000"/>
<rect x="1309" y="337" width="3" height="20" fill="#ffffff"/>
<rect x="1316" y="333" width="1" height="24" fill="#000000"/>
<rect x="1314" y="336" width="5" height="7" fill="#000000"/>
<rect x="1322" y="333" width="1" height="23" fill="#000000"/>
<rect x="1320" y="337" width="5" height="6" fill="#000000"/>
<rect x="1321" y="338" width="3" height="4" fill="#ffffff"/>
<rect x="1328" y="317" width="1" height="36" fill="#000000"/>
<rect x="1326" y="320" width="5" height="17" fill="#000000"/>
<rect x="1327" y="321" width="3" height="15" fill="#ffffff"/>
<rect x="1333" y="311" width="1" height="11" fill="#000000"/>
<rect x="1331" y="311" width="5" height="10" fill="#000000"/>
<rect x="1332" y="312" width="3" height="8" fill="#ffffff"/>
</g>
<g shape-rendering="crispEdges">
<rect x="2" y="544" width="1549" height="1" fill="#2196f3"/>
<rect x="660" y="433" width="891" height="1" fill="#2196f3"/>
<rect x="1298" y="389" width="253" height="1" fill="#2196f3"/>
<rect x="1158" y="250" width="393" height="1" fill="#4caf50"/>
<rect x="1234" y="320" width="317" height="1" fill="#4caf50"/>
</g>
<line x1="1193" y1="300.5" x2="1551" y2="300.5" stroke="#00f000" stroke-width="1.5"/>
<line x1="875.9" y1="229.1" x2="1281.2" y2="436.5" stroke="#a2a2a2" stroke-width="1.05"/>
<line x1="1187.2" y1="516.1" x2="1193" y2="510.1" stroke="#6a6a6a" stroke-width="1"/>
</g>
<g clip-path="url(#cd)">
<g shape-rendering="crispEdges">
<rect x="1" y="718" width="5" height="34" fill="#26a69a"/>
<rect x="7" y="719" width="5" height="33" fill="#b2dfdb"/>
<rect x="13" y="722" width="5" height="30" fill="#b2dfdb"/>
<rect x="19" y="723" width="5" height="29" fill="#b2dfdb"/>
<rect x="25" y="724" width="5" height="28" fill="#b2dfdb"/>
<rect x="31" y="731" width="4" height="21" fill="#b2dfdb"/>
<rect x="36" y="739" width="5" height="13" fill="#b2dfdb"/>
<rect x="42" y="742" width="5" height="10" fill="#b2dfdb"/>
<rect x="48" y="748" width="5" height="4" fill="#b2dfdb"/>
<rect x="54" y="751" width="5" height="4" fill="#ef5350"/>
<rect x="60" y="751" width="5" height="10" fill="#ef5350"/>
<rect x="66" y="751" width="5" height="15" fill="#ef5350"/>
<rect x="72" y="751" width="5" height="13" fill="#ffcdd2"/>
<rect x="78" y="751" width="4" height="11" fill="#ffcdd2"/>
<rect x="83" y="751" width="5" height="13" fill="#ef5350"/>
<rect x="89" y="751" width="5" height="15" fill="#ef5350"/>
<rect x="95" y="751" width="5" height="16" fill="#ef5350"/>
<rect x="101" y="751" width="5" height="16" fill="#ffcdd2"/>
<rect x="107" y="751" width="5" height="15" fill="#ffcdd2"/>
<rect x="113" y="751" width="5" height="14" fill="#ffcdd2"/>
<rect x="119" y="751" width="4" height="13" fill="#ffcdd2"/>
<rect x="124" y="751" width="5" height="12" fill="#ffcdd2"/>
<rect x="130" y="751" width="5" height="9" fill="#ffcdd2"/>
<rect x="136" y="751" width="5" height="8" fill="#ffcdd2"/>
<rect x="142" y="751" width="5" height="5" fill="#ffcdd2"/>
<rect x="148" y="751" width="5" height="5" fill="#ef5350"/>
<rect x="154" y="751" width="5" height="5" fill="#ffcdd2"/>
<rect x="160" y="751" width="4" height="2" fill="#ffcdd2"/>
<rect x="165" y="748" width="5" height="4" fill="#26a69a"/>
<rect x="171" y="745" width="5" height="7" fill="#26a69a"/>
<rect x="177" y="746" width="5" height="6" fill="#b2dfdb"/>
<rect x="183" y="744" width="5" height="8" fill="#26a69a"/>
<rect x="189" y="743" width="5" height="9" fill="#26a69a"/>
<rect x="195" y="739" width="5" height="13" fill="#26a69a"/>
<rect x="201" y="736" width="4" height="16" fill="#26a69a"/>
<rect x="206" y="733" width="5" height="19" fill="#26a69a"/>
<rect x="212" y="730" width="5" height="22" fill="#26a69a"/>
<rect x="218" y="725" width="5" height="27" fill="#26a69a"/>
<rect x="224" y="725" width="5" height="27" fill="#b2dfdb"/>
<rect x="230" y="724" width="5" height="28" fill="#26a69a"/>
<rect x="236" y="722" width="5" height="30" fill="#26a69a"/>
<rect x="242" y="727" width="4" height="25" fill="#b2dfdb"/>
<rect x="247" y="733" width="5" height="19" fill="#b2dfdb"/>
<rect x="253" y="736" width="5" height="16" fill="#b2dfdb"/>
<rect x="259" y="737" width="5" height="15" fill="#b2dfdb"/>
<rect x="265" y="739" width="5" height="13" fill="#b2dfdb"/>
<rect x="271" y="746" width="5" height="6" fill="#b2dfdb"/>
<rect x="277" y="751" width="5" height="4" fill="#ef5350"/>
<rect x="283" y="751" width="4" height="10" fill="#ef5350"/>
<rect x="288" y="751" width="5" height="12" fill="#ef5350"/>
<rect x="294" y="751" width="5" height="12" fill="#ef5350"/>
<rect x="300" y="751" width="5" height="10" fill="#ffcdd2"/>
<rect x="306" y="751" width="5" height="9" fill="#ffcdd2"/>
<rect x="312" y="751" width="5" height="5" fill="#ffcdd2"/>
<rect x="318" y="751" width="5" height="8" fill="#ef5350"/>
<rect x="324" y="751" width="4" height="10" fill="#ef5350"/>
<rect x="329" y="751" width="5" height="16" fill="#ef5350"/>
<rect x="335" y="751" width="5" height="19" fill="#ef5350"/>
<rect x="341" y="751" width="5" height="18" fill="#ffcdd2"/>
<rect x="347" y="751" width="5" height="17" fill="#ffcdd2"/>
<rect x="353" y="751" width="5" height="17" fill="#ffcdd2"/>
<rect x="359" y="751" width="5" height="12" fill="#ffcdd2"/>
<rect x="365" y="751" width="4" height="8" fill="#ffcdd2"/>
<rect x="370" y="751" width="5" height="6" fill="#ffcdd2"/>
<rect x="376" y="751" width="5" height="9" fill="#ef5350"/>
<rect x="382" y="751" width="5" height="11" fill="#ef5350"/>
<rect x="388" y="751" width="5" height="13" fill="#ef5350"/>
<rect x="394" y="751" width="5" height="13" fill="#ef5350"/>
<rect x="400" y="751" width="5" height="15" fill="#ef5350"/>
<rect x="406" y="751" width="5" height="18" fill="#ef5350"/>
<rect x="412" y="751" width="4" height="18" fill="#ffcdd2"/>
<rect x="417" y="751" width="5" height="17" fill="#ffcdd2"/>
<rect x="423" y="751" width="5" height="14" fill="#ffcdd2"/>
<rect x="429" y="751" width="5" height="11" fill="#ffcdd2"/>
<rect x="435" y="751" width="5" height="10" fill="#ffcdd2"/>
<rect x="441" y="751" width="5" height="10" fill="#ef5350"/>
<rect x="447" y="751" width="5" height="9" fill="#ffcdd2"/>
<rect x="453" y="751" width="4" height="8" fill="#ffcdd2"/>
<rect x="458" y="751" width="5" height="11" fill="#ef5350"/>
<rect x="464" y="751" width="5" height="16" fill="#ef5350"/>
<rect x="470" y="751" width="5" height="21" fill="#ef5350"/>
<rect x="476" y="751" width="5" height="22" fill="#ef5350"/>
<rect x="482" y="751" width="5" height="24" fill="#ef5350"/>
<rect x="488" y="751" width="5" height="22" fill="#ffcdd2"/>
<rect x="494" y="751" width="4" height="16" fill="#ffcdd2"/>
<rect x="499" y="751" width="5" height="13" fill="#ffcdd2"/>
<rect x="505" y="751" width="5" height="8" fill="#ffcdd2"/>
<rect x="511" y="751" width="5" height="6" fill="#ffcdd2"/>
<rect x="517" y="751" width="5" height="2" fill="#ffcdd2"/>
<rect x="523" y="751" width="5" height="1" fill="#ffcdd2"/>
<rect x="529" y="749" width="5" height="3" fill="#26a69a"/>
<rect x="535" y="749" width="4" height="3" fill="#26a69a"/>
<rect x="540" y="744" width="5" height="8" fill="#26a69a"/>
<rect x="546" y="742" width="5" height="10" fill="#26a69a"/>
<rect x="552" y="745" width="5" height="7" fill="#b2dfdb"/>
<rect x="558" y="747" width="5" height="5" fill="#b2dfdb"/>
<rect x="564" y="751" width="5" height="1" fill="#b2dfdb"/>
<rect x="570" y="751" width="5" height="2" fill="#ef5350"/>
<rect x="576" y="751" width="4" height="3" fill="#ef5350"/>
<rect x="581" y="751" width="5" height="1" fill="#26a69a"/>
<rect x="587" y="747" width="5" height="5" fill="#26a69a"/>
<rect x="593" y="742" width="5" height="10" fill="#26a69a"/>
<rect x="599" y="742" width="5" height="10" fill="#26a69a"/>
<rect x="605" y="740" width="5" height="12" fill="#26a69a"/>
<rect x="611" y="742" width="5" height="10" fill="#b2dfdb"/>
<rect x="617" y="746" width="4" height="6" fill="#b2dfdb"/>
<rect x="622" y="749" width="5" height="3" fill="#b2dfdb"/>
<rect x="628" y="751" width="5" height="6" fill="#ef5350"/>
<rect x="634" y="751" width="5" height="11" fill="#ef5350"/>
<rect x="640" y="751" width="5" height="13" fill="#ef5350"/>
<rect x="646" y="751" width="5" height="15" fill="#ef5350"/>
<rect x="652" y="751" width="5" height="12" fill="#ffcdd2"/>
<rect x="658" y="751" width="4" height="8" fill="#ffcdd2"/>
<rect x="663" y="751" width="5" height="1" fill="#26a69a"/>
<rect x="669" y="743" width="5" height="9" fill="#26a69a"/>
<rect x="675" y="742" width="5" height="10" fill="#26a69a"/>
<rect x="681" y="742" width="5" height="10" fill="#26a69a"/>
<rect x="687" y="745" width="5" height="7" fill="#b2dfdb"/>
<rect x="693" y="744" width="5" height="8" fill="#b2dfdb"/>
<rect x="699" y="743" width="4" height="9" fill="#26a69a"/>
<rect x="704" y="742" width="5" height="10" fill="#26a69a"/>
<rect x="710" y="741" width="5" height="11" fill="#26a69a"/>
<rect x="716" y="742" width="5" height="10" fill="#b2dfdb"/>
<rect x="722" y="742" width="5" height="10" fill="#26a69a"/>
<rect x="728" y="743" width="5" height="9" fill="#b2dfdb"/>
<rect x="734" y="746" width="5" height="6" fill="#b2dfdb"/>
<rect x="740" y="745" width="4" height="7" fill="#26a69a"/>
<rect x="745" y="744" width="5" height="8" fill="#26a69a"/>
<rect x="751" y="743" width="5" height="9" fill="#26a69a"/>
<rect x="757" y="741" width="5" height="11" fill="#26a69a"/>
<rect x="763" y="743" width="5" height="9" fill="#b2dfdb"/>
<rect x="769" y="737" width="5" height="15" fill="#26a69a"/>
<rect x="775" y="732" width="5" height="20" fill="#26a69a"/>
<rect x="781" y="729" width="5" height="23" fill="#26a69a"/>
<rect x="787" y="729" width="4" height="23" fill="#b2dfdb"/>
<rect x="792" y="731" width="5" height="21" fill="#b2dfdb"/>
<rect x="798" y="735" width="5" height="17" fill="#b2dfdb"/>
<rect x="804" y="738" width="5" height="14" fill="#b2dfdb"/>
<rect x="810" y="743" width="5" height="9" fill="#b2dfdb"/>
<rect x="816" y="744" width="5" height="8" fill="#b2dfdb"/>
<rect x="822" y="747" width="5" height="5" fill="#b2dfdb"/>
<rect x="828" y="748" width="4" height="4" fill="#b2dfdb"/>
<rect x="833" y="749" width="5" height="3" fill="#b2dfdb"/>
<rect x="839" y="748" width="5" height="4" fill="#26a69a"/>
<rect x="845" y="744" width="5" height="8" fill="#26a69a"/>
<rect x="851" y="744" width="5" height="8" fill="#26a69a"/>
<rect x="857" y="745" width="5" height="7" fill="#b2dfdb"/>
<rect x="863" y="751" width="5" height="1" fill="#b2dfdb"/>
<rect x="869" y="751" width="4" height="4" fill="#ef5350"/>
<rect x="874" y="751" width="5" height="6" fill="#ef5350"/>
<rect x="880" y="751" width="5" height="7" fill="#ef5350"/>
<rect x="886" y="751" width="5" height="5" fill="#ffcdd2"/>
<rect x="892" y="751" width="5" height="3" fill="#ffcdd2"/>
<rect x="898" y="751" width="5" height="6" fill="#ef5350"/>
<rect x="904" y="751" width="5" height="6" fill="#ef5350"/>
<rect x="910" y="751" width="4" height="4" fill="#ffcdd2"/>
<rect x="915" y="751" width="5" height="2" fill="#ffcdd2"/>
<rect x="921" y="751" width="5" height="4" fill="#ef5350"/>
<rect x="927" y="751" width="5" height="8" fill="#ef5350"/>
<rect x="933" y="751" width="5" height="11" fill="#ef5350"/>
<rect x="939" y="751" width="5" height="16" fill="#ef5350"/>
<rect x="945" y="751" width="5" height="16" fill="#ef5350"/>
<rect x="951" y="751" width="4" height="18" fill="#ef5350"/>
<rect x="956" y="751" width="5" height="19" fill="#ef5350"/>
<rect x="962" y="751" width="5" height="24" fill="#ef5350"/>
<rect x="968" y="751" width="5" height="25" fill="#ef5350"/>
<rect x="974" y="751" width="5" height="23" fill="#ffcdd2"/>
<rect x="980" y="751" width="5" height="21" fill="#ffcdd2"/>
<rect x="986" y="751" width="5" height="16" fill="#ffcdd2"/>
<rect x="992" y="751" width="4" height="13" fill="#ffcdd2"/>
<rect x="997" y="751" width="5" height="11" fill="#ffcdd2"/>
<rect x="1003" y="751" width="5" height="9" fill="#ffcdd2"/>
<rect x="1009" y="751" width="5" height="9" fill="#ef5350"/>
<rect x="1015" y="751" width="5" height="9" fill="#ffcdd2"/>
<rect x="1021" y="751" width="5" height="6" fill="#ffcdd2"/>
<rect x="1027" y="751" width="5" height="9" fill="#ef5350"/>
<rect x="1033" y="751" width="4" height="12" fill="#ef5350"/>
<rect x="1038" y="751" width="5" height="13" fill="#ef5350"/>
<rect x="1044" y="751" width="5" height="17" fill="#ef5350"/>
<rect x="1050" y="751" width="5" height="14" fill="#ffcdd2"/>
<rect x="1056" y="751" width="5" height="11" fill="#ffcdd2"/>
<rect x="1062" y="751" width="5" height="5" fill="#ffcdd2"/>
<rect x="1068" y="751" width="5" height="1" fill="#ffcdd2"/>
<rect x="1074" y="748" width="4" height="4" fill="#26a69a"/>
<rect x="1079" y="746" width="5" height="6" fill="#26a69a"/>
<rect x="1085" y="745" width="5" height="7" fill="#26a69a"/>
<rect x="1091" y="746" width="5" height="6" fill="#b2dfdb"/>
<rect x="1097" y="750" width="5" height="2" fill="#b2dfdb"/>
<rect x="1103" y="749" width="5" height="3" fill="#26a69a"/>
<rect x="1109" y="748" width="5" height="4" fill="#26a69a"/>
<rect x="1115" y="745" width="5" height="7" fill="#26a69a"/>
<rect x="1121" y="744" width="4" height="8" fill="#26a69a"/>
<rect x="1126" y="742" width="5" height="10" fill="#26a69a"/>
<rect x="1132" y="742" width="5" height="10" fill="#26a69a"/>
<rect x="1138" y="747" width="5" height="5" fill="#b2dfdb"/>
<rect x="1144" y="751" width="5" height="2" fill="#ef5350"/>
<rect x="1150" y="751" width="5" height="2" fill="#ef5350"/>
<rect x="1156" y="751" width="5" height="4" fill="#ef5350"/>
<rect x="1162" y="751" width="4" height="10" fill="#ef5350"/>
<rect x="1167" y="751" width="5" height="16" fill="#ef5350"/>
<rect x="1173" y="751" width="5" height="22" fill="#ef5350"/>
<rect x="1179" y="751" width="5" height="22" fill="#ffcdd2"/>
<rect x="1185" y="751" width="5" height="19" fill="#ffcdd2"/>
<rect x="1191" y="751" width="5" height="13" fill="#ffcdd2"/>
<rect x="1197" y="751" width="5" height="13" fill="#ffcdd2"/>
<rect x="1203" y="751" width="4" height="10" fill="#ffcdd2"/>
<rect x="1208" y="751" width="5" height="10" fill="#ffcdd2"/>
<rect x="1214" y="751" width="5" height="4" fill="#ffcdd2"/>
<rect x="1220" y="751" width="5" height="4" fill="#ffcdd2"/>
<rect x="1226" y="751" width="5" height="4" fill="#ffcdd2"/>
<rect x="1232" y="751" width="5" height="2" fill="#ffcdd2"/>
<rect x="1238" y="751" width="5" height="4" fill="#ef5350"/>
<rect x="1244" y="751" width="4" height="7" fill="#ef5350"/>
<rect x="1249" y="751" width="5" height="11" fill="#ef5350"/>
<rect x="1255" y="751" width="5" height="11" fill="#ffcdd2"/>
<rect x="1261" y="751" width="5" height="11" fill="#ef5350"/>
<rect x="1267" y="751" width="5" height="13" fill="#ef5350"/>
<rect x="1273" y="751" width="5" height="12" fill="#ffcdd2"/>
<rect x="1279" y="751" width="5" height="9" fill="#ffcdd2"/>
<rect x="1285" y="751" width="4" height="6" fill="#ffcdd2"/>
<rect x="1290" y="751" width="5" height="1" fill="#ffcdd2"/>
<rect x="1296" y="744" width="5" height="8" fill="#26a69a"/>
<rect x="1302" y="740" width="5" height="12" fill="#26a69a"/>
<rect x="1308" y="735" width="5" height="17" fill="#26a69a"/>
<rect x="1314" y="734" width="5" height="18" fill="#26a69a"/>
<rect x="1320" y="732" width="5" height="20" fill="#26a69a"/>
<rect x="1326" y="730" width="4" height="22" fill="#26a69a"/>
<rect x="1331" y="729" width="5" height="23" fill="#26a69a"/>
</g>
<polyline points="3.5,711.5 9.5,704.0 15.5,696.5 21.5,689.9 27.5,683.4 33.5,678.2 38.5,674.7 44.5,672.4 50.5,671.2 56.5,671.7 62.5,674.0 68.5,677.5 74.5,681.0 80.5,684.1 85.5,687.1 91.5,691.1 97.5,695.1 103.5,698.9 109.5,702.4 115.5,705.9 121.5,709.2 126.5,711.3 132.5,713.1 138.5,714.3 144.5,715.3 150.5,716.2 156.5,716.9 162.5,716.9 167.5,715.7 173.5,714.3 179.5,712.9 185.5,711.3 191.5,709.2 197.5,706.3 203.5,702.1 208.5,697.4 214.5,691.8 220.5,685.3 226.5,678.7 232.5,671.2 238.5,664.6 244.5,659.0 249.5,654.8 255.5,651.3 261.5,647.3 267.5,644.7 273.5,643.8 279.5,644.7 285.5,647.3 290.5,650.1 296.5,652.5 302.5,654.8 308.5,656.4 314.5,657.6 320.5,659.5 326.5,661.4 331.5,665.3 337.5,670.0 343.5,674.2 349.5,678.7 355.5,682.4 361.5,684.8 367.5,686.4 372.5,687.6 378.5,689.5 384.5,691.8 390.5,694.6 396.5,698.1 402.5,702.1 408.5,706.8 414.5,711.7 419.5,715.3 425.5,718.1 431.5,720.4 437.5,722.7 443.5,724.6 449.5,726.7 455.5,728.8 460.5,732.1 466.5,736.8 472.5,742.7 478.5,748.1 484.5,752.7 490.5,757.2 496.5,760.2 501.5,762.6 507.5,764.0 513.5,764.9 519.5,765.2 525.5,764.9 531.5,764.5 537.5,763.8 542.5,761.9 548.5,760.2 554.5,758.8 560.5,757.9 566.5,757.4 572.5,757.9 578.5,758.4 583.5,757.9 589.5,756.7 595.5,754.4 601.5,752.0 607.5,749.7 613.5,747.4 619.5,745.7 624.5,745.7 630.5,747.4 636.5,750.4 642.5,753.7 648.5,756.7 654.5,759.5 660.5,760.9 665.5,760.7 671.5,758.6 677.5,756.7 683.5,754.4 689.5,752.5 695.5,750.9 701.5,749.0 706.5,746.6 712.5,744.3 718.5,742.0 724.5,739.9 730.5,737.5 736.5,736.1 742.5,734.5 747.5,732.1 753.5,729.8 759.5,727.4 765.5,725.1 771.5,722.0 777.5,716.4 783.5,711.4 789.5,706.3 794.5,701.4 800.5,697.4 806.5,694.6 812.5,692.3 818.5,690.7 824.5,689.7 830.5,689.0 835.5,688.3 841.5,687.4 847.5,685.7 853.5,684.1 859.5,682.7 865.5,682.4 871.5,683.4 876.5,684.8 882.5,686.0 888.5,686.9 894.5,687.6 900.5,689.0 906.5,689.9 912.5,690.7 917.5,690.9 923.5,691.6 929.5,693.5 935.5,696.5 941.5,699.8 947.5,704.0 953.5,708.2 958.5,713.8 964.5,719.7 970.5,725.6 976.5,731.0 982.5,735.6 988.5,738.7 994.5,741.5 999.5,743.8 1005.5,745.7 1011.5,747.6 1017.5,749.2 1023.5,750.9 1029.5,752.7 1035.5,755.6 1040.5,758.6 1046.5,761.9 1052.5,764.9 1058.5,767.3 1064.5,768.9 1070.5,769.1 1076.5,768.4 1081.5,767.3 1087.5,765.9 1093.5,764.5 1099.5,764.0 1105.5,763.5 1111.5,762.6 1117.5,760.9 1123.5,759.1 1128.5,756.7 1134.5,754.8 1140.5,753.7 1146.5,753.9 1152.5,754.4 1158.5,755.6 1164.5,757.9 1169.5,761.4 1175.5,766.1 1181.5,770.8 1187.5,775.0 1193.5,778.3 1199.5,781.3 1205.5,783.7 1210.5,786.0 1216.5,786.7 1222.5,787.4 1228.5,787.9 1234.5,788.4 1240.5,789.1 1246.5,790.7 1251.5,793.0 1257.5,795.9 1263.5,798.2 1269.5,801.2 1275.5,803.6 1281.5,805.5 1287.5,806.6 1292.5,807.1 1298.5,805.9 1304.5,803.6 1310.5,800.1 1316.5,795.9 1322.5,791.2 1328.5,785.5 1333.5,779.5" fill="none" stroke="#ff6d00" stroke-width="1.05" stroke-linejoin="round" stroke-linecap="round"/>
<polyline points="3.5,678.2 9.5,671.2 15.5,666.5 21.5,661.4 27.5,655.5 33.5,657.1 38.5,662.3 44.5,663.0 50.5,667.7 56.5,674.7 62.5,682.9 68.5,691.6 74.5,694.2 80.5,693.9 85.5,697.7 91.5,703.5 97.5,708.7 103.5,711.7 109.5,715.0 115.5,716.9 121.5,719.9 126.5,721.6 132.5,719.2 138.5,720.4 144.5,718.1 150.5,719.2 156.5,719.7 162.5,716.9 167.5,712.9 173.5,708.7 179.5,707.5 185.5,704.7 191.5,701.7 197.5,695.1 203.5,687.6 208.5,679.9 214.5,671.2 220.5,660.0 226.5,654.8 232.5,645.4 238.5,637.2 244.5,636.1 249.5,637.2 255.5,636.8 261.5,633.7 267.5,632.5 273.5,637.9 279.5,646.6 285.5,654.8 290.5,660.0 296.5,663.0 302.5,663.7 308.5,664.2 314.5,661.8 320.5,666.0 326.5,669.6 331.5,680.6 337.5,687.1 343.5,689.9 349.5,693.5 355.5,697.2 361.5,695.8 367.5,692.8 372.5,693.0 378.5,697.7 384.5,702.4 390.5,707.1 396.5,711.5 402.5,716.2 408.5,722.3 414.5,727.4 419.5,730.2 425.5,730.2 431.5,729.8 437.5,731.0 443.5,733.3 449.5,733.8 455.5,735.2 460.5,741.5 466.5,750.9 472.5,760.2 478.5,766.6 484.5,773.1 490.5,776.6 496.5,774.3 501.5,773.1 507.5,770.8 513.5,770.5 519.5,766.1 525.5,765.4 531.5,762.6 537.5,760.9 542.5,754.4 548.5,750.9 554.5,752.5 560.5,753.7 566.5,756.7 572.5,759.1 578.5,760.2 583.5,757.4 589.5,752.5 595.5,745.5 601.5,742.7 607.5,738.4 613.5,738.4 619.5,739.9 624.5,743.8 630.5,752.7 636.5,760.2 642.5,766.1 648.5,770.8 654.5,770.1 660.5,768.0 665.5,760.2 671.5,750.4 677.5,747.4 683.5,744.3 689.5,744.5 695.5,743.4 701.5,740.3 706.5,736.8 712.5,733.8 718.5,732.1 724.5,729.8 730.5,729.3 736.5,730.2 742.5,728.6 747.5,724.6 753.5,722.3 759.5,718.1 765.5,717.4 771.5,709.2 777.5,698.9 783.5,689.9 789.5,684.8 794.5,681.7 800.5,681.3 806.5,682.0 812.5,684.6 818.5,683.9 824.5,685.5 830.5,685.7 835.5,686.2 841.5,684.1 847.5,678.7 853.5,676.6 859.5,676.4 865.5,681.7 871.5,686.4 876.5,689.9 882.5,691.6 888.5,691.1 894.5,689.0 900.5,693.0 906.5,694.9 912.5,693.7 917.5,691.4 923.5,693.5 929.5,699.3 935.5,705.2 941.5,714.1 947.5,718.1 953.5,724.4 958.5,731.0 964.5,740.3 970.5,747.8 976.5,750.9 982.5,754.4 988.5,753.2 994.5,752.0 999.5,752.7 1005.5,752.7 1011.5,755.6 1017.5,757.2 1023.5,756.0 1029.5,760.7 1035.5,766.1 1040.5,770.8 1046.5,777.8 1052.5,778.0 1058.5,778.3 1064.5,773.8 1070.5,769.6 1076.5,765.4 1081.5,762.1 1087.5,759.5 1093.5,758.8 1099.5,762.6 1105.5,761.9 1111.5,759.1 1117.5,754.8 1123.5,751.6 1128.5,747.4 1134.5,745.5 1140.5,749.7 1146.5,754.4 1152.5,755.6 1158.5,757.9 1164.5,766.1 1169.5,776.6 1175.5,786.7 1181.5,791.2 1187.5,793.5 1193.5,790.7 1199.5,793.0 1205.5,793.0 1210.5,794.7 1216.5,790.2 1222.5,790.2 1228.5,790.9 1234.5,789.1 1240.5,792.3 1246.5,796.6 1251.5,802.9 1257.5,805.2 1263.5,808.3 1269.5,813.0 1275.5,815.3 1281.5,813.4 1287.5,812.3 1292.5,805.9 1298.5,797.3 1304.5,790.7 1310.5,782.5 1316.5,776.6 1322.5,770.8 1328.5,763.8 1333.5,757.2" fill="none" stroke="#2196f3" stroke-width="1.05" stroke-linejoin="round" stroke-linecap="round"/>
</g>
<g shape-rendering="crispEdges">
<rect x="1" y="5" width="1615" height="1" fill="#4c4f5b"/>
<rect x="1" y="854" width="1615" height="1" fill="#4c4f5b"/>
<rect x="1" y="5" width="1" height="850" fill="#4c4f5b"/>
<rect x="1615" y="5" width="1" height="850" fill="#4c4f5b"/>
<rect x="1551" y="5" width="1" height="850" fill="#4c4f5b"/>
<rect x="1" y="621" width="1614" height="1" fill="#4c4f5b"/>
<rect x="1" y="826" width="1614" height="1" fill="#4c4f5b"/>
<rect x="1552" y="24" width="4" height="1" fill="#4c4f5b"/>
<rect x="1552" y="69" width="4" height="1" fill="#4c4f5b"/>
<rect x="1552" y="115" width="4" height="1" fill="#4c4f5b"/>
<rect x="1552" y="160" width="4" height="1" fill="#4c4f5b"/>
<rect x="1552" y="206" width="4" height="1" fill="#4c4f5b"/>
<rect x="1552" y="251" width="4" height="1" fill="#4c4f5b"/>
<rect x="1552" y="297" width="4" height="1" fill="#4c4f5b"/>
<rect x="1552" y="342" width="4" height="1" fill="#4c4f5b"/>
<rect x="1552" y="388" width="4" height="1" fill="#4c4f5b"/>
<rect x="1552" y="433" width="4" height="1" fill="#4c4f5b"/>
<rect x="1552" y="479" width="4" height="1" fill="#4c4f5b"/>
<rect x="1552" y="524" width="4" height="1" fill="#4c4f5b"/>
<rect x="1552" y="569" width="4" height="1" fill="#4c4f5b"/>
<rect x="1552" y="615" width="4" height="1" fill="#4c4f5b"/>
<rect x="1552" y="631" width="4" height="1" fill="#4c4f5b"/>
<rect x="1552" y="671" width="4" height="1" fill="#4c4f5b"/>
<rect x="1552" y="711" width="4" height="1" fill="#4c4f5b"/>
<rect x="1552" y="751" width="4" height="1" fill="#4c4f5b"/>
<rect x="1552" y="791" width="4" height="1" fill="#4c4f5b"/>
<rect x="115" y="827" width="1" height="4" fill="#4c4f5b"/>
<rect x="249" y="827" width="1" height="4" fill="#4c4f5b"/>
<rect x="372" y="827" width="1" height="4" fill="#4c4f5b"/>
<rect x="507" y="827" width="1" height="4" fill="#4c4f5b"/>
<rect x="648" y="827" width="1" height="4" fill="#4c4f5b"/>
<rect x="771" y="827" width="1" height="4" fill="#4c4f5b"/>
<rect x="906" y="827" width="1" height="4" fill="#4c4f5b"/>
<rect x="1029" y="827" width="1" height="4" fill="#4c4f5b"/>
<rect x="1146" y="827" width="1" height="4" fill="#4c4f5b"/>
<rect x="1281" y="827" width="1" height="4" fill="#4c4f5b"/>
<rect x="1357" y="827" width="1" height="4" fill="#4c4f5b"/>
<rect x="1433" y="827" width="1" height="4" fill="#4c4f5b"/>
<rect x="1527" y="827" width="1" height="4" fill="#4c4f5b"/>
</g>
<text x="1561.5" y="28.4" font-size="11" fill="#4f525e" font-weight="normal" text-anchor="start" textLength="37.6" lengthAdjust="spacingAndGlyphs">1.26000</text>
<text x="1561.5" y="73.4" font-size="11" fill="#4f525e" font-weight="normal" text-anchor="start" textLength="37.6" lengthAdjust="spacingAndGlyphs">1.25000</text>
<text x="1561.5" y="119.4" font-size="11" fill="#4f525e" font-weight="normal" text-anchor="start" textLength="37.6" lengthAdjust="spacingAndGlyphs">1.24000</text>
<text x="1561.5" y="164.4" font-size="11" fill="#4f525e" font-weight="normal" text-anchor="start" textLength="37.6" lengthAdjust="spacingAndGlyphs">1.23000</text>
<text x="1561.5" y="210.4" font-size="11" fill="#4f525e" font-weight="normal" text-anchor="start" textLength="37.6" lengthAdjust="spacingAndGlyphs">1.22000</text>
<text x="1561.5" y="255.4" font-size="11" fill="#4f525e" font-weight="normal" text-anchor="start" textLength="37.6" lengthAdjust="spacingAndGlyphs">1.21000</text>
<text x="1561.5" y="301.4" font-size="11" fill="#4f525e" font-weight="normal" text-anchor="start" textLength="37.6" lengthAdjust="spacingAndGlyphs">1.20000</text>
<text x="1561.5" y="346.4" font-size="11" fill="#4f525e" font-weight="normal" text-anchor="start" textLength="37.6" lengthAdjust="spacingAndGlyphs">1.19000</text>
<text x="1561.5" y="392.4" font-size="11" fill="#4f525e" font-weight="normal" text-anchor="start" textLength="37.6" lengthAdjust="spacingAndGlyphs">1.18000</text>
<text x="1561.5" y="437.4" font-size="11" fill="#4f525e" font-weight="normal" text-anchor="start" textLength="37.6" lengthAdjust="spacingAndGlyphs">1.17000</text>
<text x="1561.5" y="483.4" font-size="11" fill="#4f525e" font-weight="normal" text-anchor="start" textLength="37.6" lengthAdjust="spacingAndGlyphs">1.16000</text>
<text x="1561.5" y="528.4" font-size="11" fill="#4f525e" font-weight="normal" text-anchor="start" textLength="37.6" lengthAdjust="spacingAndGlyphs">1.15000</text>
<text x="1561.5" y="573.4" font-size="11" fill="#4f525e" font-weight="normal" text-anchor="start" textLength="37.6" lengthAdjust="spacingAndGlyphs">1.14000</text>
<text x="1561.5" y="619.4" font-size="11" fill="#4f525e" font-weight="normal" text-anchor="start" textLength="37.6" lengthAdjust="spacingAndGlyphs">1.13000</text>
<text x="1561.5" y="634.8" font-size="11" fill="#4f525e" font-weight="normal" text-anchor="start" textLength="37.5" lengthAdjust="spacingAndGlyphs">0.01500</text>
<text x="1561.5" y="674.8" font-size="11" fill="#4f525e" font-weight="normal" text-anchor="start" textLength="37.5" lengthAdjust="spacingAndGlyphs">0.01000</text>
<text x="1561.5" y="714.8" font-size="11" fill="#4f525e" font-weight="normal" text-anchor="start" textLength="37.5" lengthAdjust="spacingAndGlyphs">0.00500</text>
<text x="1561.5" y="754.8" font-size="11" fill="#4f525e" font-weight="normal" text-anchor="start" textLength="43.5" lengthAdjust="spacingAndGlyphs">−0.00000</text>
<text x="1561.5" y="794.8" font-size="11" fill="#4f525e" font-weight="normal" text-anchor="start" textLength="43.5" lengthAdjust="spacingAndGlyphs">−0.00500</text>
<text x="107.75" y="842.8" font-size="11" fill="#4f525e" font-weight="normal" text-anchor="start" textLength="14.1" lengthAdjust="spacingAndGlyphs">Jul</text>
<text x="240.15" y="842.8" font-size="11" fill="#4f525e" font-weight="normal" text-anchor="start" textLength="17.3" lengthAdjust="spacingAndGlyphs">Aug</text>
<text x="363.15" y="842.8" font-size="11" fill="#4f525e" font-weight="normal" text-anchor="start" textLength="17.3" lengthAdjust="spacingAndGlyphs">Sep</text>
<text x="498.05" y="842.8" font-size="11" fill="#4f525e" font-weight="normal" text-anchor="start" textLength="17.5" lengthAdjust="spacingAndGlyphs">Oct</text>
<text x="638.65" y="842.8" font-size="11" fill="#4f525e" font-weight="normal" text-anchor="start" textLength="18.3" lengthAdjust="spacingAndGlyphs">Nov</text>
<text x="762.05" y="842.8" font-size="11" fill="#4f525e" font-weight="normal" text-anchor="start" textLength="17.5" lengthAdjust="spacingAndGlyphs">Dec</text>
<text x="893.85" y="842.8" font-size="11" fill="#4f525e" font-weight="bold" text-anchor="start" textLength="23.9" lengthAdjust="spacingAndGlyphs">2021</text>
<text x="1020.15" y="842.8" font-size="11" fill="#4f525e" font-weight="normal" text-anchor="start" textLength="17.3" lengthAdjust="spacingAndGlyphs">Feb</text>
<text x="1137.1" y="842.8" font-size="11" fill="#4f525e" font-weight="normal" text-anchor="start" textLength="17.4" lengthAdjust="spacingAndGlyphs">Mar</text>
<text x="1272.3" y="842.8" font-size="11" fill="#4f525e" font-weight="normal" text-anchor="start" textLength="17" lengthAdjust="spacingAndGlyphs">Apr</text>
<text x="1351.5" y="842.8" font-size="11" fill="#4f525e" font-weight="normal" text-anchor="start" textLength="10.6" lengthAdjust="spacingAndGlyphs">18</text>
<text x="1423.3" y="842.8" font-size="11" fill="#4f525e" font-weight="normal" text-anchor="start" textLength="19" lengthAdjust="spacingAndGlyphs">May</text>
<text x="1521.5" y="842.8" font-size="11" fill="#4f525e" font-weight="normal" text-anchor="start" textLength="10.6" lengthAdjust="spacingAndGlyphs">17</text>
<rect x="1569.5" y="12.5" width="27" height="17" rx="3.5" ry="3.5" fill="#ffffff" stroke="#d1d4dc" stroke-width="1"/>
<text x="1583" y="24.5" font-size="10" fill="#4f525e" font-weight="normal" text-anchor="middle" textLength="19" lengthAdjust="spacingAndGlyphs">USD</text>
<path d="M1551 242 H1603 Q1605 242 1605 244 V257 Q1605 259 1603 259 H1551 Z" fill="#4caf50"/>
<rect x="1551" y="250" width="5" height="1" fill="#ffffff" shape-rendering="crispEdges"/>
<text x="1561.5" y="254.5" font-size="11" fill="#ffffff" font-weight="bold" text-anchor="start" textLength="37.5" lengthAdjust="spacingAndGlyphs">1.21033</text>
<path d="M1551 288 H1603 Q1605 288 1605 290 V303 Q1605 305 1603 305 H1551 Z" fill="#00ff00"/>
<rect x="1551" y="296" width="5" height="1" fill="#000000" shape-rendering="crispEdges"/>
<text x="1561.5" y="300.5" font-size="11" fill="#000000" font-weight="normal" text-anchor="start" textLength="37.5" lengthAdjust="spacingAndGlyphs">1.19915</text>
<rect x="1551" y="305" width="63" height="27" fill="#ffffff"/>
<rect x="1551" y="311" width="5" height="1" fill="#000" shape-rendering="crispEdges"/>
<text x="1561.5" y="316" font-size="11" fill="#000000" font-weight="normal" text-anchor="start" textLength="37.5" lengthAdjust="spacingAndGlyphs">1.19678</text>
<text x="1561.5" y="329" font-size="11" fill="#6a6d78" font-weight="normal" text-anchor="start" textLength="42" lengthAdjust="spacingAndGlyphs">14:30:23</text>
<path d="M1551 332 H1603 Q1605 332 1605 334 V347 Q1605 349 1603 349 H1551 Z" fill="#4caf50"/>
<rect x="1551" y="340" width="5" height="1" fill="#ffffff" shape-rendering="crispEdges"/>
<text x="1561.5" y="344.5" font-size="11" fill="#ffffff" font-weight="bold" text-anchor="start" textLength="37.5" lengthAdjust="spacingAndGlyphs">1.19476</text>
<path d="M1551 381 H1603 Q1605 381 1605 383 V396 Q1605 398 1603 398 H1551 Z" fill="#2196f3"/>
<rect x="1551" y="389" width="5" height="1" fill="#ffffff" shape-rendering="crispEdges"/>
<text x="1561.5" y="393.5" font-size="11" fill="#ffffff" font-weight="bold" text-anchor="start" textLength="37.5" lengthAdjust="spacingAndGlyphs">1.17961</text>
<path d="M1551 425 H1603 Q1605 425 1605 427 V440 Q1605 442 1603 442 H1551 Z" fill="#2196f3"/>
<rect x="1551" y="433" width="5" height="1" fill="#ffffff" shape-rendering="crispEdges"/>
<text x="1561.5" y="437.5" font-size="11" fill="#ffffff" font-weight="bold" text-anchor="start" textLength="37.5" lengthAdjust="spacingAndGlyphs">1.17000</text>
<path d="M1551 536 H1603 Q1605 536 1605 538 V551 Q1605 553 1603 553 H1551 Z" fill="#2196f3"/>
<rect x="1551" y="544" width="5" height="1" fill="#ffffff" shape-rendering="crispEdges"/>
<text x="1561.5" y="548.5" font-size="11" fill="#ffffff" font-weight="bold" text-anchor="start" textLength="37.5" lengthAdjust="spacingAndGlyphs">1.14550</text>
<text x="10" y="27" font-size="12.5" fill="#4a4d58" font-weight="bold" text-anchor="start" textLength="128.5" lengthAdjust="spacingAndGlyphs">Euro / U.S. Dollar, 1D,</text>
<text x="10" y="43.5" font-size="12.5" fill="#50535e" font-weight="normal" text-anchor="start" textLength="100.5" lengthAdjust="spacingAndGlyphs">EMA (50, close, 0)</text>
<text x="10" y="60.5" font-size="12.5" fill="#50535e" font-weight="normal" text-anchor="start" textLength="107.5" lengthAdjust="spacingAndGlyphs">EMA (200, close, 0)</text>
<text x="10.5" y="642.8" font-size="12.5" fill="#5a5d68" font-weight="normal" text-anchor="start" textLength="130" lengthAdjust="spacingAndGlyphs">MACD (12, 26, close, 9)</text>
<rect x="14" y="90.7" width="300" height="71.8" fill="#18242e"/>
<text x="31" y="142" font-size="44" fill="#ffffff" textLength="107" lengthAdjust="spacing">CITY</text>
<text x="153.1" y="142" font-size="44" fill="#f6ee16" textLength="147.5" lengthAdjust="spacing">INDEX</text>
<g>
<circle cx="1369.5" cy="606.5" r="11.3" fill="none" stroke="#f7a035" stroke-width="1.2"/>
<clipPath id="us1"><circle cx="1369.5" cy="606.5" r="8.6"/></clipPath>
<g clip-path="url(#us1)"><rect x="1360.9" y="597.9" width="17.2" height="17.2" fill="#f4f6f8"/>
<rect x="1360.9" y="597.90" width="17.2" height="2.46" fill="#e8506a"/>
<rect x="1360.9" y="602.81" width="17.2" height="2.46" fill="#e8506a"/>
<rect x="1360.9" y="607.73" width="17.2" height="2.46" fill="#e8506a"/>
<rect x="1360.9" y="612.64" width="17.2" height="2.46" fill="#e8506a"/>
<rect x="1360.9" y="597.9" width="9.1" height="9.6" fill="#4a8fe0"/></g>
<circle cx="1363" cy="606.5" r="11.3" fill="none" stroke="#f7a035" stroke-width="1.2"/>
<clipPath id="us2"><circle cx="1363" cy="606.5" r="8.6"/></clipPath>
<g clip-path="url(#us2)"><rect x="1354.4" y="597.9" width="17.2" height="17.2" fill="#f4f6f8"/>
<rect x="1354.4" y="597.90" width="17.2" height="2.46" fill="#e8506a"/>
<rect x="1354.4" y="602.81" width="17.2" height="2.46" fill="#e8506a"/>
<rect x="1354.4" y="607.73" width="17.2" height="2.46" fill="#e8506a"/>
<rect x="1354.4" y="612.64" width="17.2" height="2.46" fill="#e8506a"/>
<rect x="1354.4" y="597.9" width="9.1" height="9.6" fill="#4a8fe0"/></g>
<circle cx="1351" cy="606.5" r="11.3" fill="none" stroke="#f7a035" stroke-width="1.2"/>
<clipPath id="us3"><circle cx="1351" cy="606.5" r="8.6"/></clipPath>
<g clip-path="url(#us3)"><rect x="1342.4" y="597.9" width="17.2" height="17.2" fill="#f4f6f8"/>
<rect x="1342.4" y="597.90" width="17.2" height="2.46" fill="#e8506a"/>
<rect x="1342.4" y="602.81" width="17.2" height="2.46" fill="#e8506a"/>
<rect x="1342.4" y="607.73" width="17.2" height="2.46" fill="#e8506a"/>
<rect x="1342.4" y="612.64" width="17.2" height="2.46" fill="#e8506a"/>
<rect x="1342.4" y="597.9" width="9.1" height="9.6" fill="#4a8fe0"/></g>
<circle cx="1345" cy="606.5" r="11.3" fill="none" stroke="#f7a035" stroke-width="1.2"/>
<clipPath id="us4"><circle cx="1345" cy="606.5" r="8.6"/></clipPath>
<g clip-path="url(#us4)"><rect x="1336.4" y="597.9" width="17.2" height="17.2" fill="#f4f6f8"/>
<rect x="1336.4" y="597.90" width="17.2" height="2.46" fill="#e8506a"/>
<rect x="1336.4" y="602.81" width="17.2" height="2.46" fill="#e8506a"/>
<rect x="1336.4" y="607.73" width="17.2" height="2.46" fill="#e8506a"/>
<rect x="1336.4" y="612.64" width="17.2" height="2.46" fill="#e8506a"/>
<rect x="1336.4" y="597.9" width="9.1" height="9.6" fill="#4a8fe0"/></g>
<circle cx="1339" cy="606.5" r="11.3" fill="none" stroke="#f7a035" stroke-width="1.2"/>
<clipPath id="us5"><circle cx="1339" cy="606.5" r="8.6"/></clipPath>
<g clip-path="url(#us5)"><rect x="1330.4" y="597.9" width="17.2" height="17.2" fill="#f4f6f8"/>
<rect x="1330.4" y="597.90" width="17.2" height="2.46" fill="#e8506a"/>
<rect x="1330.4" y="602.81" width="17.2" height="2.46" fill="#e8506a"/>
<rect x="1330.4" y="607.73" width="17.2" height="2.46" fill="#e8506a"/>
<rect x="1330.4" y="612.64" width="17.2" height="2.46" fill="#e8506a"/>
<rect x="1330.4" y="597.9" width="9.1" height="9.6" fill="#4a8fe0"/></g>
<circle cx="1357" cy="607" r="11" fill="none" stroke="#f23645" stroke-width="1.2"/>
<circle cx="1357" cy="607" r="7.5" fill="#3f51b5"/>
<circle cx="1357" cy="607" r="4.3" fill="none" stroke="#f6c945" stroke-width="1.2" stroke-dasharray="1.1 1.8"/>
<circle cx="1345" cy="606.5" r="11.3" fill="none" stroke="#f23645" stroke-width="1.2"/>
<clipPath id="us6"><circle cx="1345" cy="606.5" r="8.6"/></clipPath>
<g clip-path="url(#us6)"><rect x="1336.4" y="597.9" width="17.2" height="17.2" fill="#f4f6f8"/>
<rect x="1336.4" y="597.90" width="17.2" height="2.46" fill="#e8506a"/>
<rect x="1336.4" y="602.81" width="17.2" height="2.46" fill="#e8506a"/>
<rect x="1336.4" y="607.73" width="17.2" height="2.46" fill="#e8506a"/>
<rect x="1336.4" y="612.64" width="17.2" height="2.46" fill="#e8506a"/>
<rect x="1336.4" y="597.9" width="9.1" height="9.6" fill="#4a8fe0"/></g>
<circle cx="1332.5" cy="606.5" r="11.3" fill="none" stroke="#f7a035" stroke-width="1.2"/>
<clipPath id="us7"><circle cx="1332.5" cy="606.5" r="8.6"/></clipPath>
<g clip-path="url(#us7)"><rect x="1323.9" y="597.9" width="17.2" height="17.2" fill="#f4f6f8"/>
<rect x="1323.9" y="597.90" width="17.2" height="2.46" fill="#e8506a"/>
<rect x="1323.9" y="602.81" width="17.2" height="2.46" fill="#e8506a"/>
<rect x="1323.9" y="607.73" width="17.2" height="2.46" fill="#e8506a"/>
<rect x="1323.9" y="612.64" width="17.2" height="2.46" fill="#e8506a"/>
<rect x="1323.9" y="597.9" width="9.1" height="9.6" fill="#4a8fe0"/></g>
<circle cx="1351" cy="582.5" r="11" fill="none" stroke="#f7a035" stroke-width="1.2"/>
<circle cx="1351" cy="582.5" r="7.8" fill="#3f51b5"/>
<circle cx="1351" cy="582.5" r="4.6" fill="none" stroke="#f6c945" stroke-width="1.2" stroke-dasharray="1.1 1.8"/>
<circle cx="1345" cy="582.5" r="11" fill="none" stroke="#f7a035" stroke-width="1.2"/>
<circle cx="1345" cy="582.5" r="7.8" fill="#3f51b5"/>
<circle cx="1345" cy="582.5" r="4.6" fill="none" stroke="#f6c945" stroke-width="1.2" stroke-dasharray="1.1 1.8"/>
<circle cx="1362.5" cy="582.5" r="11" fill="none" stroke="#f7a035" stroke-width="1.2"/>
<circle cx="1362.5" cy="582.5" r="7.8" fill="#3f51b5"/>
<circle cx="1362.5" cy="582.5" r="4.6" fill="none" stroke="#f6c945" stroke-width="1.2" stroke-dasharray="1.1 1.8"/>
<circle cx="1332.5" cy="582.5" r="11" fill="none" stroke="#f7a035" stroke-width="1.2"/>
<circle cx="1332.5" cy="582.5" r="7.8" fill="#3f51b5"/>
<circle cx="1332.5" cy="582.5" r="4.6" fill="none" stroke="#f6c945" stroke-width="1.2" stroke-dasharray="1.1 1.8"/>
<circle cx="1351" cy="584" r="11" fill="none" stroke="#f23645" stroke-width="1.1"/>
<text x="1337.5" y="578.9" font-size="10" fill="#111" stroke="#fff" stroke-width="3.5" paint-order="stroke" textLength="40" lengthAdjust="spacing">1215 13</text>
<text x="1340" y="603" font-size="10" fill="#222" stroke="#fff" stroke-width="3.5" paint-order="stroke" textLength="40.5" lengthAdjust="spacing">7 75 003</text>
</g>
<path d="M2 873 C1 868 5 866 7.5 866.6 C8.5 863.5 14.5 863.3 16 866.8 C19.5 865.8 24 868 23.5 873 Z" fill="#2196f3"/>
<circle cx="11.5" cy="871.5" r="2.4" fill="#ffffff"/>
<text x="29" y="877.4" font-size="13" fill="#111111" font-weight="normal" text-anchor="start" textLength="70.8" lengthAdjust="spacingAndGlyphs">TradingView</text>
</svg>
</body></html>
